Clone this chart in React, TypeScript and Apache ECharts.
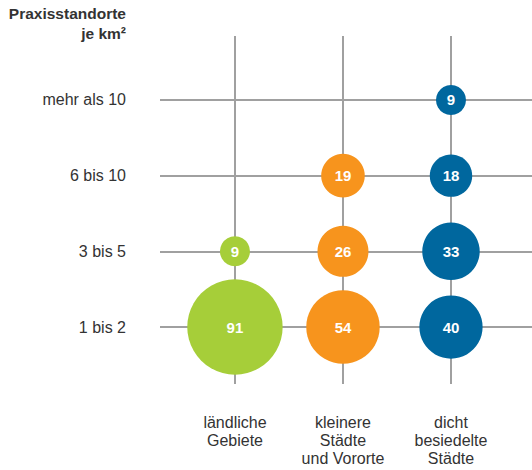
import React, { useEffect, useRef } from "react";
import * as echarts from "echarts";

const categories = ["ländliche\nGebiete", "kleinere\nStädte\nund Vororte", "dicht\nbesiedelte\nStädte"];
const densityLevels = ["1 bis 2", "3 bis 5", "6 bis 10", "mehr als 10"];
const colors = ["#a6ce39", "#f7941d", "#00679e"];
// [categoryIndex, densityIndex, value]
const laendlich = [[0, 0, 91], [0, 1, 9]];
const kleinere = [[1, 0, 54], [1, 1, 26], [1, 2, 19]];
const dicht = [[2, 0, 40], [2, 1, 33], [2, 2, 18], [2, 3, 9]];
const seriesData = [laendlich, kleinere, dicht];

export default function App() {
  const ref = useRef<HTMLDivElement>(null);
  useEffect(() => {
    const chart = echarts.init(ref.current!, null, { renderer: "svg" });
    const font = "'Liberation Sans', Arial, sans-serif";
    chart.setOption({
      animation: false,
      textStyle: { fontFamily: font },
      grid: { left: 160, right: 0, top: 36, bottom: 86 },
      graphic: [
        {
          type: "text",
          x: 126,
          y: 3,
          style: {
            text: "Praxisstandorte\nje km²",
            fontFamily: font,
            fontSize: 15.5,
            fontWeight: "bold",
            fill: "#333",
            align: "right",
            verticalAlign: "top",
            lineHeight: 20,
          },
        },
      ],
      xAxis: {
        type: "value",
        min: -0.694,
        max: 2.75,
        axisLine: { show: false },
        axisTick: { show: false, customValues: [0, 1, 2] },
        axisLabel: {
          customValues: [0, 1, 2],
          formatter: (v: number) => categories[Math.round(v)] ?? "",
          fontSize: 16,
          color: "#333",
          lineHeight: 18,
          margin: 29,
          fontFamily: font,
        },
        splitLine: { show: true, lineStyle: { color: "#a0a0a0", width: 2 } },
      },
      yAxis: {
        type: "value",
        min: -0.753,
        max: 3.845,
        axisLine: { show: false },
        axisTick: { show: false, customValues: [0, 1, 2, 3] },
        axisLabel: {
          customValues: [0, 1, 2, 3],
          formatter: (v: number) => densityLevels[Math.round(v)] ?? "",
          fontSize: 16,
          color: "#333",
          margin: 34,
          fontFamily: font,
        },
        splitLine: { show: true, lineStyle: { color: "#a0a0a0", width: 2 } },
      },
      series: seriesData.map((d, i) => ({
        type: "scatter",
        data: d,
        symbol: "circle",
        symbolSize: (val: number[]) => 10 * Math.sqrt(val[2]),
        itemStyle: { color: colors[i], opacity: 1 },
        label: {
          show: true,
          position: "inside",
          formatter: (p: any) => String(p.value[2]),
          color: "#fff",
          fontWeight: "bold",
          fontSize: 15,
          fontFamily: font,
        },
        z: 3,
      })),
    });
    return () => chart.dispose();
  }, []);
  return <div ref={ref} style={{ width: 532, height: 470, position: "absolute", left: 0, top: 0 }} />;
}
